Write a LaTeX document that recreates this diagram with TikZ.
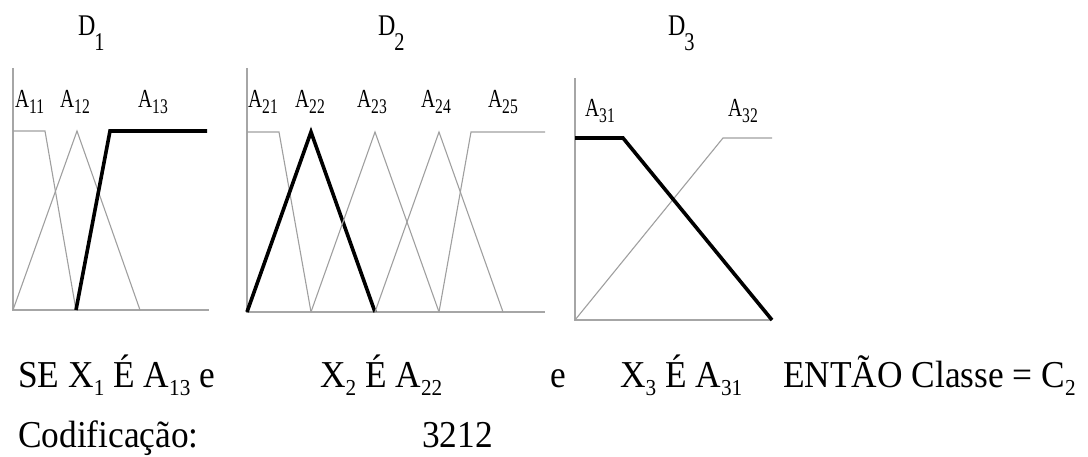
\documentclass[tikz,border=0pt]{standalone}
\usepackage{fontspec}
\setmainfont{Liberation Serif}
\newcommand{\lo}[1]{\raisebox{-0.22em}{\scalebox{0.6}{#1}}}
\newcommand{\ix}[1]{\raisebox{-0.2em}{\scalebox{0.8}{#1}}}
\newcommand{\dx}[1]{\kern-0.05em\raisebox{-0.5em}{\scalebox{0.85}{#1}}}

\begin{document}
\begin{tikzpicture}[
  x=1pt, y=-1pt,
  axis/.style={draw=gray!70, line width=1.2pt},
  mf/.style={draw=gray!75, line width=1.1pt},
  sel/.style={draw=black, line width=3.6pt},
  lbl/.style={inner sep=0pt, anchor=base west, xscale=0.75, font=\fontsize{26}{26}\selectfont},
  dom/.style={inner sep=0pt, anchor=base west, xscale=0.8, font=\fontsize{30}{30}\selectfont},
  rule/.style={inner sep=0pt, anchor=base west, xscale=0.93, font=\fontsize{38}{40}\selectfont}
]
\useasboundingbox (0,0) rectangle (1088,457);

% D1
\node[dom] (d1) at (78,36) {D\dx{1}};
\draw[axis] (13,68) -- (13,310) -- (209,310);
\draw[mf] (13,131) -- (45,131) -- (76,310);
\draw[mf] (13,310) -- (77,131) -- (140,310);
\draw[sel] (76,310) -- (110,131) -- (207,131);
\node[lbl] (a11) at (15,108) {A\ix{11}};
\node[lbl] (a12) at (60,108) {A\ix{12}};
\node[lbl] (a13) at (138,108) {A\ix{13}};

% D2
\node[dom] (d2) at (378,36) {D\dx{2}};
\draw[axis] (247,68) -- (247,312) -- (545,312);
\draw[mf] (247,132) -- (279,132) -- (311,312);
\draw[sel] (247,312) -- (311,132) -- (375,312);
\foreach \c in {375,439}
  \draw[mf] (\c-64,312) -- (\c,132) -- (\c+64,312);
\draw[mf] (439,312) -- (471,132) -- (545,132);
\node[lbl] (a21) at (248,108) {A\ix{21}};
\node[lbl] (a22) at (295,108) {A\ix{22}};
\node[lbl] (a23) at (357,108) {A\ix{23}};
\node[lbl] (a24) at (421,108) {A\ix{24}};
\node[lbl] (a25) at (488,108) {A\ix{25}};

% D3
\node[dom] (d3) at (668,36) {D\dx{3}};
\draw[axis] (575,78) -- (575,320) -- (772,320);
\draw[mf] (575,320) -- (723,138) -- (772,138);
\draw[sel] (575,138) -- (623,138) -- (772,320);
\node[lbl] (a31) at (585,117) {A\ix{31}};
\node[lbl] (a32) at (728,117) {A\ix{32}};

% regra
\node[rule] (se) at (18,387) {SE X\lo{1} É A\lo{13} e};
\node[rule] (x2) at (320,387) {X\lo{2} É A\lo{22}};
\node[rule] (e2) at (550,387) {e};
\node[rule] (x3) at (620,387) {X\lo{3} É A\lo{31}};
\node[rule] (then) at (783,387) {ENTÃO Classe = C\lo{2}};
\node[rule] (cod) at (18,447) {Codificação:};
\node[rule] (num) at (422,447) {3212};
\end{tikzpicture}
\end{document}
